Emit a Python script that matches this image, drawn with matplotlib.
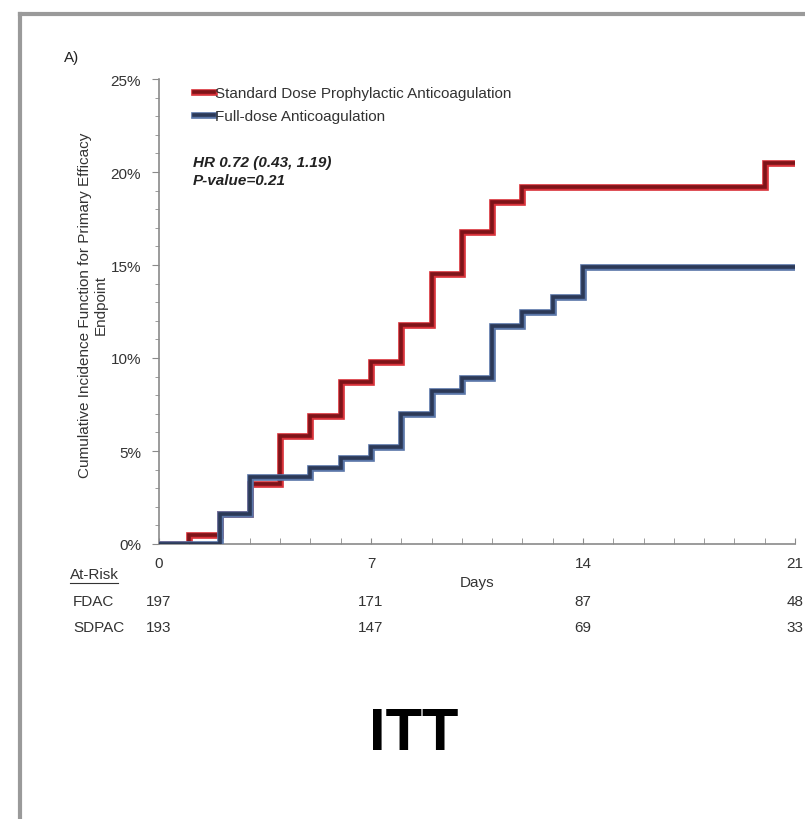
import matplotlib.pyplot as plt
import matplotlib.patheffects as pe
from matplotlib.lines import Line2D
from matplotlib.ticker import MultipleLocator, FuncFormatter

plt.rcParams['font.family'] = ['Liberation Sans', 'DejaVu Sans']

# cumulative incidence (%) at each step, post-step values
sdpac_days = [0, 1, 2, 3, 4, 5, 6, 7, 8, 9, 10, 11, 12, 20, 21]
sdpac_cif = [0, 0.5, 1.6, 3.2, 5.8, 6.9, 8.7, 9.8, 11.8, 14.5, 16.8, 18.4, 19.2, 20.5, 20.5]

fdac_days = [0, 2, 3, 5, 6, 7, 8, 9, 10, 11, 12, 13, 14, 21]
fdac_cif = [0, 1.6, 3.6, 4.1, 4.6, 5.2, 7.0, 8.2, 8.9, 11.7, 12.5, 13.3, 14.9, 14.9]

# numbers at risk
risk_days = [0, 7, 14, 21]
risk_fdac = [197, 171, 87, 48]
risk_sdpac = [193, 147, 69, 33]

W, H = 805, 820
FS = 11
TXT = '#333333'

fig = plt.figure(figsize=(W / 100, H / 100), dpi=100)
ax = fig.add_axes([159 / W, 1 - 545 / H, (795 - 159) / W, (545 - 80) / H])

red_fx = [pe.Stroke(linewidth=4.8, foreground='#d8323a'), pe.Normal()]
blue_fx = [pe.Stroke(linewidth=4.8, foreground='#5a76a8'), pe.Normal()]

ax.step(sdpac_days, sdpac_cif, where='post', color='#7e1419', lw=2.6,
        path_effects=red_fx, solid_joinstyle='miter', zorder=3)
ax.step(fdac_days, fdac_cif, where='post', color='#2c3957', lw=2.6,
        path_effects=blue_fx, solid_joinstyle='miter', zorder=4)

ax.set_xlim(0, 21)
ax.set_ylim(0, 25)
ax.spines['top'].set_visible(False)
ax.spines['right'].set_visible(False)
for s in ('left', 'bottom'):
    ax.spines[s].set_color('#8a8a8a')
    ax.spines[s].set_linewidth(1.2)

ax.xaxis.set_major_locator(MultipleLocator(7))
ax.xaxis.set_minor_locator(MultipleLocator(1))
ax.yaxis.set_major_locator(MultipleLocator(5))
ax.yaxis.set_minor_locator(MultipleLocator(1))
ax.yaxis.set_major_formatter(FuncFormatter(lambda v, p: f'{v:.0f}%'))

ax.tick_params(axis='x', which='both', direction='in', length=4, color='#8a8a8a',
               labelsize=FS, labelcolor=TXT, pad=9)
ax.tick_params(axis='y', which='major', direction='out', length=5, color='#8a8a8a',
               labelsize=FS, labelcolor=TXT, pad=8)
ax.tick_params(axis='y', which='minor', direction='out', length=3, color='#8a8a8a')

fig.text(477 / W, 1 - 583 / H, 'Days', fontsize=FS, color=TXT, ha='center', va='center')

fig.text(93 / W, 1 - 305 / H,
         'Cumulative Incidence Function for Primary Efficacy\nEndpoint',
         rotation=90, ha='center', va='center', multialignment='center',
         fontsize=FS, color=TXT)

leg = ax.legend(['Standard Dose Prophylactic Anticoagulation', 'Full-dose Anticoagulation'],
                loc='upper left', bbox_to_anchor=(0.045, 0.998), frameon=False,
                handlelength=1.3, handletextpad=0.1, labelspacing=0.6,
                fontsize=FS, borderaxespad=0)
for txt in leg.get_texts():
    txt.set_color(TXT)

fig.text(193 / W, 1 - 156 / H, 'HR 0.72 (0.43, 1.19)\nP-value=0.21',
         fontsize=FS, fontweight='bold', fontstyle='italic', color='#222222',
         va='top', ha='left', linespacing=1.4)

fig.text(64 / W, 1 - 58 / H, 'A)', fontsize=FS, color='#222222', va='center')

# at-risk table
fig.text(70 / W, 1 - 575 / H, 'At-Risk', fontsize=FS, color=TXT, va='center')
fig.add_artist(Line2D([70 / W, 118 / W], [1 - 584 / H, 1 - 584 / H], color=TXT, lw=0.8))
fig.text(73 / W, 1 - 602 / H, 'FDAC', fontsize=FS, color=TXT, va='center')
fig.text(73 / W, 1 - 628 / H, 'SDPAC', fontsize=FS, color=TXT, va='center')
for d, a, b in zip(risk_days, risk_fdac, risk_sdpac):
    ax.annotate(str(a), xy=(d, 1 - 602 / H), xycoords=('data', 'figure fraction'),
                ha='center', va='center', fontsize=FS, color=TXT, annotation_clip=False)
    ax.annotate(str(b), xy=(d, 1 - 628 / H), xycoords=('data', 'figure fraction'),
                ha='center', va='center', fontsize=FS, color=TXT, annotation_clip=False)

fig.text(414 / W, 1 - 735 / H, 'ITT', fontsize=43, fontweight='bold',
         ha='center', va='center', color='black')

# page frame
fig.add_artist(Line2D([20 / W, 20 / W], [0, 1 - 15 / H], color='#9a9a9a', lw=3))
fig.add_artist(Line2D([20 / W, 1], [1 - 15 / H, 1 - 15 / H], color='#9a9a9a', lw=3))

fig.savefig('out.png', dpi=100)
